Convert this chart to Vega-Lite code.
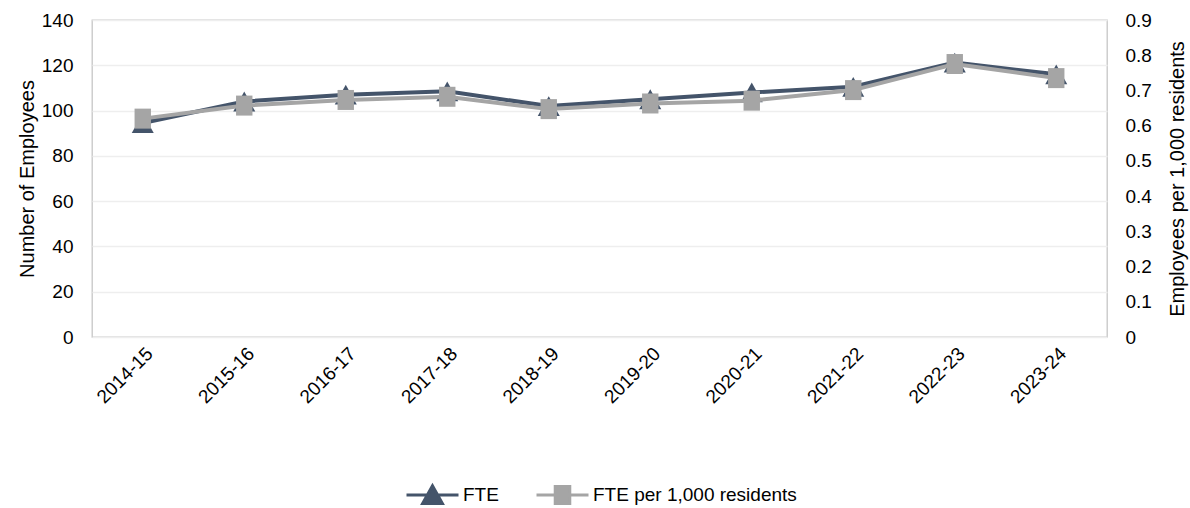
{
  "$schema": "https://vega.github.io/schema/vega-lite/v6.json",
  "width": 1015,
  "height": 317,
  "autosize": "none",
  "padding": {"left": 92, "top": 20, "right": 83, "bottom": 171},
  "background": "white",
  "config": {
    "font": "Liberation Sans",
    "view": {"stroke": "#C6C6C6", "strokeWidth": 1.3},
    "axis": {"labelFont": "Liberation Sans", "titleFont": "Liberation Sans", "labelFontSize": 19, "titleFontSize": 20, "titleFontWeight": "normal", "labelColor": "#000000", "titleColor": "#000000", "domain": false, "ticks": false, "tickSize": 0}
  },
  "data": {
    "values": [
      {"year": "2014-15", "series": "FTE", "value": 94.5},
      {"year": "2015-16", "series": "FTE", "value": 104},
      {"year": "2016-17", "series": "FTE", "value": 107},
      {"year": "2017-18", "series": "FTE", "value": 108.5},
      {"year": "2018-19", "series": "FTE", "value": 102},
      {"year": "2019-20", "series": "FTE", "value": 105},
      {"year": "2020-21", "series": "FTE", "value": 108},
      {"year": "2021-22", "series": "FTE", "value": 110.5},
      {"year": "2022-23", "series": "FTE", "value": 121.2},
      {"year": "2023-24", "series": "FTE", "value": 116},
      {"year": "2014-15", "series": "FTE per 1,000 residents", "value": 0.62},
      {"year": "2015-16", "series": "FTE per 1,000 residents", "value": 0.657},
      {"year": "2016-17", "series": "FTE per 1,000 residents", "value": 0.673},
      {"year": "2017-18", "series": "FTE per 1,000 residents", "value": 0.682},
      {"year": "2018-19", "series": "FTE per 1,000 residents", "value": 0.647},
      {"year": "2019-20", "series": "FTE per 1,000 residents", "value": 0.663},
      {"year": "2020-21", "series": "FTE per 1,000 residents", "value": 0.671},
      {"year": "2021-22", "series": "FTE per 1,000 residents", "value": 0.701},
      {"year": "2022-23", "series": "FTE per 1,000 residents", "value": 0.775},
      {"year": "2023-24", "series": "FTE per 1,000 residents", "value": 0.735}
    ]
  },
  "encoding": {
    "x": {
      "field": "year", "type": "ordinal",
      "scale": {"type": "point", "padding": 0.5},
      "axis": {"title": null, "labelAngle": -45, "labelPadding": 7, "grid": false}
    },
    "color": {
      "field": "series", "type": "nominal",
      "scale": {"domain": ["FTE", "FTE per 1,000 residents"], "range": ["#44546A", "#A5A5A5"]},
      "legend": {
        "orient": "none", "legendX": 313, "legendY": 447, "direction": "horizontal", "title": null,
        "symbolSize": 2704, "labelFont": "Liberation Sans", "labelFontSize": 19, "labelColor": "#000000", "labelOffset": 3, "labelLimit": 500, "columnPadding": 31, "padding": 0,
        "symbolStrokeWidth": 3,
        "encode": {
          "symbols": {
            "update": {
              "shape": {"signal": "datum.value === 'FTE' ? 'M-1,0H1M0,-0.36L-0.38,0.32L0.38,0.32Z' : 'M-1,0H1M-0.28,-0.33H0.28V0.33H-0.28Z'"},
              "fill": {"signal": "datum.value === 'FTE' ? '#44546A' : '#A5A5A5'"},
              "stroke": {"signal": "datum.value === 'FTE' ? '#44546A' : '#A5A5A5'"},
              "strokeWidth": {"value": 3},
              "opacity": {"value": 1},
              "fillOpacity": {"value": 1}
            }
          }
        }
      }
    }
  },
  "layer": [
    {
      "transform": [{"filter": "datum.series === 'FTE'"}],
      "encoding": {
        "y": {
          "field": "value", "type": "quantitative",
          "scale": {"domain": [0, 140], "nice": false},
          "axis": {"orient": "left", "values": [0, 20, 40, 60, 80, 100, 120, 140], "grid": true, "gridColor": "#EEEEEE", "gridWidth": 1.3, "labelPadding": 19,
                   "title": "Number of Employees", "titleAngle": 270, "titleBaseline": "alphabetic", "titleX": -59, "titleY": 158.5, "titleAlign": "center"}
        }
      },
      "layer": [
        {"mark": {"type": "line", "strokeWidth": 4}},
        {"mark": {"type": "point", "shape": "M0,-0.9L-1,0.9L1,0.9Z", "filled": true, "opacity": 1, "size": 484}}
      ]
    },
    {
      "transform": [{"filter": "datum.series !== 'FTE'"}],
      "encoding": {
        "y": {
          "field": "value", "type": "quantitative",
          "scale": {"domain": [0, 0.9], "nice": false},
          "axis": {"orient": "right", "values": [0, 0.1, 0.2, 0.3, 0.4, 0.5, 0.6, 0.7, 0.8, 0.9], "format": "~g", "grid": false, "labelPadding": 18,
                   "title": "Employees per 1,000 residents", "titleAngle": 270, "titleBaseline": "alphabetic", "titleX": 76, "titleY": 158.5, "titleAlign": "center"}
        }
      },
      "layer": [
        {"mark": {"type": "line", "strokeWidth": 4}},
        {"mark": {"type": "point", "shape": "M-0.82,-1H0.82V1H-0.82Z", "filled": true, "opacity": 1, "size": 400}}
      ]
    }
  ],
  "resolve": {"scale": {"y": "independent"}}
}
